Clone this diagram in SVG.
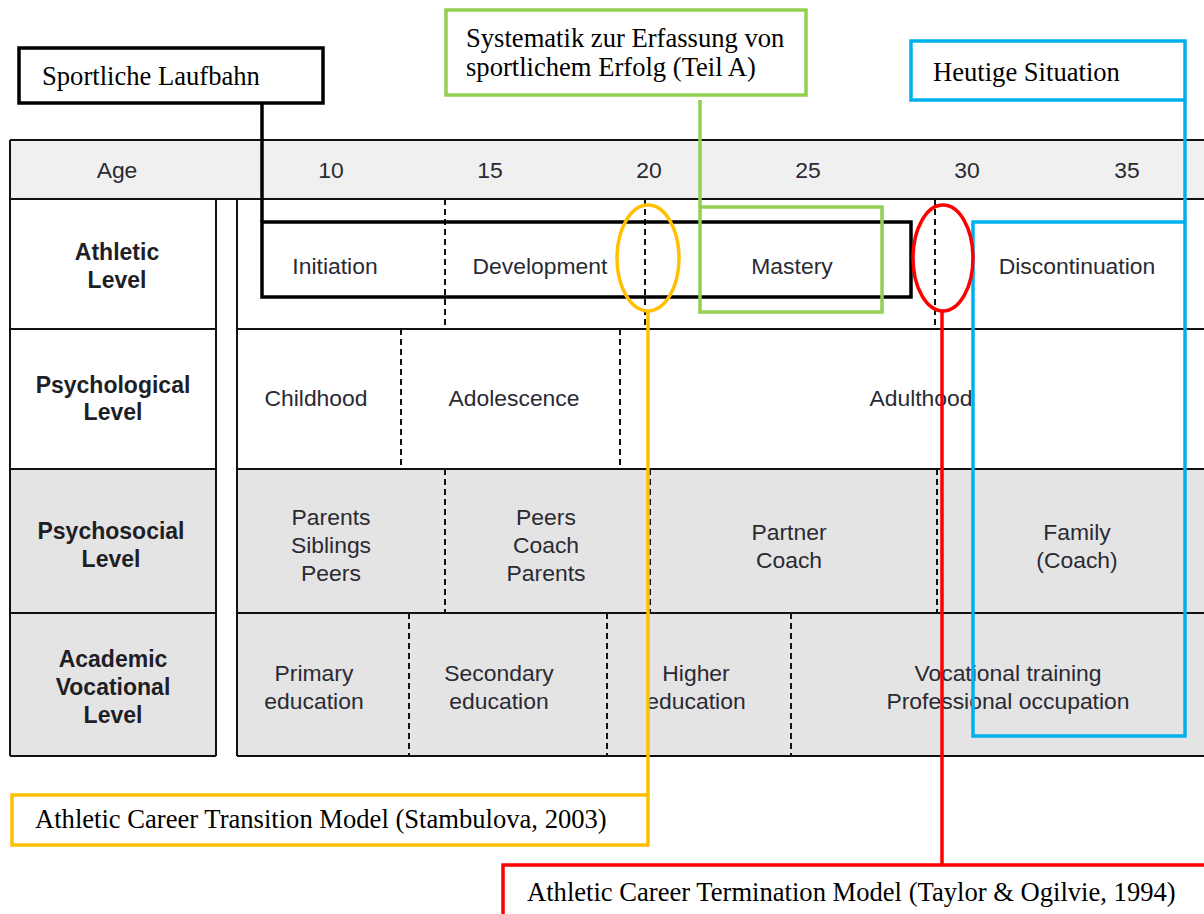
<svg xmlns="http://www.w3.org/2000/svg" width="1204" height="914" viewBox="0 0 1204 914">
  <style>
    .grid { stroke: #111; stroke-width: 2; fill: none; }
    .dash { stroke: #111; stroke-width: 2; stroke-dasharray: 6 4; fill: none; }
    .cell { font-family: "Liberation Sans", Arial, sans-serif; font-size: 22.9px; fill: #2a2a33; text-anchor: middle; }
    .head { font-family: "Liberation Sans", Arial, sans-serif; font-size: 23px; font-weight: bold; fill: #1e1e26; text-anchor: middle; }
    .note { font-family: "Liberation Serif", "Times New Roman", serif; font-size: 26.6px; fill: #000; }
    .box { fill: #fff; stroke-width: 3.5; }
    .frame { fill: none; stroke-width: 3.5; }
    .k { stroke: #000; }
    .g { stroke: #92D050; }
    .b { stroke: #00B0F0; }
    .o { stroke: #FFC000; }
    .r { stroke: #FF0000; }
  </style>

  <rect width="1204" height="914" fill="#fff"/>

  <!-- Life-span table -->
  <g id="table">
    <rect x="10" y="140" width="1200" height="59" fill="#f0f0f0"/>
    <rect x="10" y="469" width="206" height="287" fill="#e4e4e4"/>
    <rect x="237" y="469" width="970" height="287" fill="#e4e4e4"/>

    <path class="grid" d="M10 140H1204M10 199H1204
      M10 329H216M237 329H1204
      M10 469H216M237 469H1204
      M10 613H216M237 613H1204
      M10 756H216M237 756H1204
      M10 140V756M216 199V756M237 199V756"/>

    <path class="dash" d="M445 199V329M645 199V329M935 199V329
      M401 329V469M620 329V469
      M445 469V613M650 469V613M937 469V613
      M409 613V756M607 613V756M791 613V756"/>

    <text class="cell" x="117" y="178">Age</text>
    <text class="cell" x="331" y="178">10</text>
    <text class="cell" x="490" y="178">15</text>
    <text class="cell" x="649" y="178">20</text>
    <text class="cell" x="808" y="178">25</text>
    <text class="cell" x="967" y="178">30</text>
    <text class="cell" x="1127" y="178">35</text>

    <text class="head" x="117" y="260">Athletic</text>
    <text class="head" x="117" y="288">Level</text>
    <text class="cell" x="335" y="274">Initiation</text>
    <text class="cell" x="540" y="274">Development</text>
    <text class="cell" x="792" y="274">Mastery</text>
    <text class="cell" x="1077" y="274">Discontinuation</text>

    <text class="head" x="113" y="393">Psychological</text>
    <text class="head" x="113" y="420">Level</text>
    <text class="cell" x="316" y="406">Childhood</text>
    <text class="cell" x="514" y="406">Adolescence</text>
    <text class="cell" x="921" y="406">Adulthood</text>

    <text class="head" x="111" y="539">Psychosocial</text>
    <text class="head" x="111" y="567">Level</text>
    <text class="cell" x="331" y="525">Parents</text>
    <text class="cell" x="331" y="553">Siblings</text>
    <text class="cell" x="331" y="581">Peers</text>
    <text class="cell" x="546" y="525">Peers</text>
    <text class="cell" x="546" y="553">Coach</text>
    <text class="cell" x="546" y="581">Parents</text>
    <text class="cell" x="789" y="540">Partner</text>
    <text class="cell" x="789" y="568">Coach</text>
    <text class="cell" x="1077" y="540">Family</text>
    <text class="cell" x="1077" y="568">(Coach)</text>

    <text class="head" x="113" y="667">Academic</text>
    <text class="head" x="113" y="695">Vocational</text>
    <text class="head" x="113" y="723">Level</text>
    <text class="cell" x="314" y="681">Primary</text>
    <text class="cell" x="314" y="709">education</text>
    <text class="cell" x="499" y="681">Secondary</text>
    <text class="cell" x="499" y="709">education</text>
    <text class="cell" x="696" y="681">Higher</text>
    <text class="cell" x="696" y="709">education</text>
    <text class="cell" x="1008" y="681">Vocational training</text>
    <text class="cell" x="1008" y="709">Professional occupation</text>
  </g>

  <!-- Highlight frames over the table -->
  <g id="frame-laufbahn"><rect class="frame k" x="262" y="222" width="649" height="75"/></g>
  <g id="frame-erfolg"><rect class="frame g" x="700" y="207" width="182" height="105"/></g>
  <g id="frame-heute"><rect class="frame b" x="973" y="222" width="212" height="514"/></g>
  <g id="mark-transition"><ellipse class="frame o" cx="648" cy="258" rx="31" ry="53"/></g>
  <g id="mark-termination"><ellipse class="frame r" cx="943" cy="258" rx="30" ry="53"/></g>

  <!-- Callout leaders -->
  <g id="connectors" fill="none" stroke-width="3.5">
    <path class="k" d="M262 103V222"/>
    <path class="g" d="M700 100V207"/>
    <path class="b" d="M1185 100V222"/>
    <path class="o" d="M648 311V795"/>
    <path class="r" d="M942 311V865"/>
  </g>

  <!-- Callout labels -->
  <g id="label-laufbahn">
    <rect class="box k" x="19" y="48" width="304" height="55"/>
    <text class="note" x="42" y="85">Sportliche Laufbahn</text>
  </g>
  <g id="label-erfolg">
    <rect class="box g" x="446" y="10" width="360" height="85"/>
    <text class="note" x="466" y="47">Systematik zur Erfassung von</text>
    <text class="note" x="466" y="76">sportlichem Erfolg (Teil A)</text>
  </g>
  <g id="label-heute">
    <rect class="box b" x="911" y="41" width="274" height="59"/>
    <text class="note" x="933" y="81">Heutige Situation</text>
  </g>
  <g id="label-transition">
    <rect class="box o" x="12" y="795" width="636" height="50"/>
    <text class="note" x="35" y="828">Athletic Career Transition Model (Stambulova, 2003)</text>
  </g>
  <g id="label-termination">
    <rect class="box r" x="503" y="865" width="720" height="70"/>
    <text class="note" x="527" y="901">Athletic Career Termination Model (Taylor &amp; Ogilvie, 1994)</text>
  </g>
</svg>
